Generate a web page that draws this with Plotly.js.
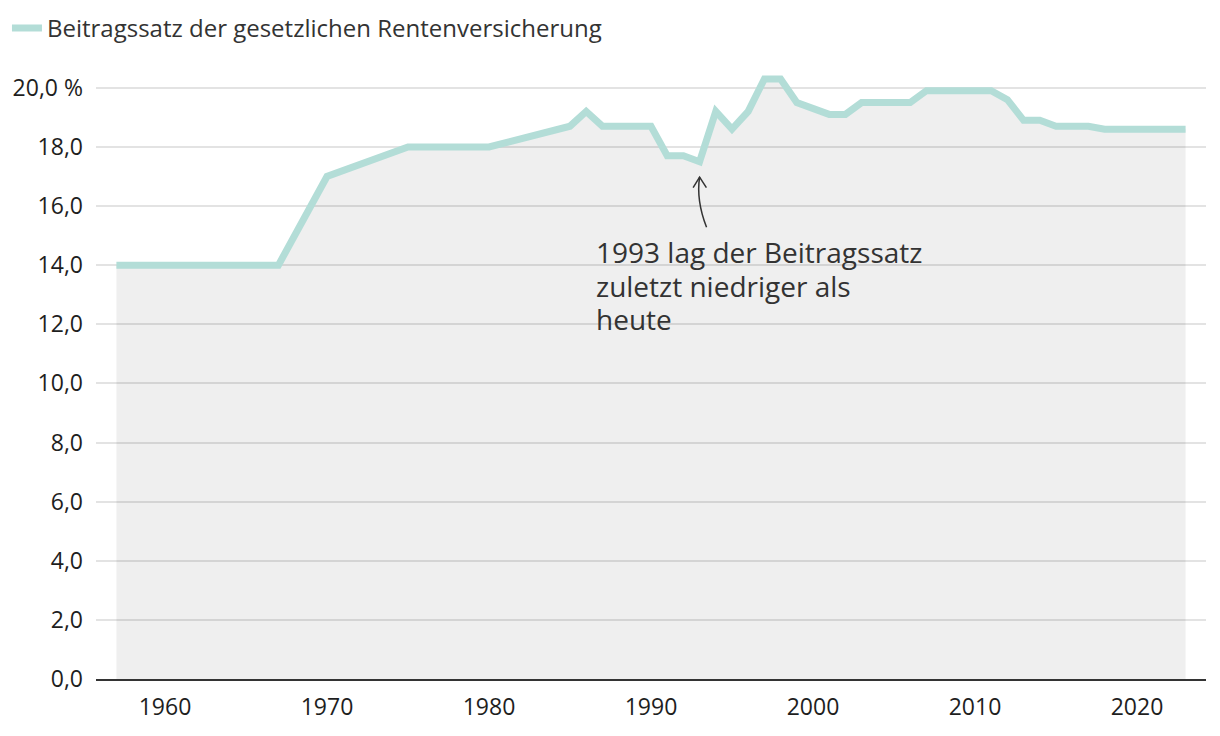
<!DOCTYPE html>
<html>
<head>
<meta charset="utf-8">
<script src="https://cdn.plot.ly/plotly-3.0.1.min.js"></script>
<style>
html,body{margin:0;padding:0;background:#fff;}
#chart{width:1220px;height:736px;}
</style>
</head>
<body>
<div id="chart"></div>
<script>
const years = [1957, 1967, 1970, 1975, 1980, 1985, 1986, 1987, 1988, 1989, 1990,
  1991, 1992, 1993, 1994, 1995, 1996, 1997, 1998, 1999, 2000, 2001, 2002, 2003,
  2004, 2005, 2006, 2007, 2008, 2009, 2010, 2011, 2012, 2013, 2014, 2015, 2016,
  2017, 2018, 2019, 2020, 2021, 2022, 2023];
const rate = [14.0, 14.0, 17.0, 18.0, 18.0, 18.7, 19.2, 18.7, 18.7, 18.7, 18.7,
  17.7, 17.7, 17.5, 19.2, 18.6, 19.2, 20.3, 20.3, 19.5, 19.3, 19.1, 19.1, 19.5,
  19.5, 19.5, 19.5, 19.9, 19.9, 19.9, 19.9, 19.9, 19.6, 18.9, 18.9, 18.7, 18.7,
  18.7, 18.6, 18.6, 18.6, 18.6, 18.6, 18.6];
const seriesName = "Beitragssatz der gesetzlichen Rentenversicherung";
const yTickVals = [0, 2, 4, 6, 8, 10, 12, 14, 16, 18, 20];
const yTickText = ["0,0", "2,0", "4,0", "6,0", "8,0", "10,0", "12,0", "14,0", "16,0", "18,0", "20,0 %"];
const xTickVals = [1960, 1970, 1980, 1990, 2000, 2010, 2020];
const noteLines = ["1993 lag der Beitragssatz", "zuletzt niedriger als", "heute"];

const font = "'Open Sans', 'Noto Sans', sans-serif";
const teal = "#b3ddd7";

const traces = [
  {
    x: years, y: rate, type: "scatter", mode: "lines",
    fill: "tozeroy", fillcolor: "rgba(0,0,0,0.063)",
    line: {width: 0, color: "rgba(0,0,0,0)"},
    showlegend: false, hoverinfo: "skip"
  },
  {
    x: years, y: rate, type: "scatter", mode: "lines",
    name: seriesName,
    line: {color: teal, width: 7, shape: "linear"},
    showlegend: true
  }
];

const noteText = noteLines.map(t => '<span style="font-size:28px">' + t + '</span>').join("<br>");

const layout = {
  width: 1220, height: 736,
  margin: {l: 96, r: 14, t: 73, b: 57},
  paper_bgcolor: "#fff", plot_bgcolor: "#fff",
  font: {family: font, color: "#222", size: 23},
  showlegend: true,
  legend: {
    orientation: "h", xref: "container", yref: "container",
    x: 0.0057, y: 0.992, xanchor: "left", yanchor: "top",
    font: {family: font, size: 24, color: "#333"},
    itemwidth: 30, bgcolor: "rgba(0,0,0,0)"
  },
  xaxis: {
    range: [1955.74, 2024.26],
    tickvals: xTickVals, ticktext: xTickVals.map(String),
    showgrid: false, zeroline: false,
    showline: true, linecolor: "#333", linewidth: 2,
    ticks: "", ticklabelstandoff: 6,
    tickfont: {family: font, size: 23, color: "#1e1e1e"}
  },
  yaxis: {
    range: [0, 20.5],
    tickvals: yTickVals, ticktext: yTickText,
    showgrid: true, gridcolor: "#e3e3e3", gridwidth: 2,
    zeroline: false, showline: false,
    ticks: "", ticklabelstandoff: 12,
    tickfont: {family: font, size: 23, color: "#1e1e1e"}
  },
  annotations: [
    {
      x: 1986.48, y: 13.32, xref: "x", yref: "y",
      xanchor: "left", yanchor: "middle", align: "left",
      text: noteText, showarrow: false,
      font: {family: font, size: 25.8, color: "#333"}
    }
  ],
  shapes: [
    {
      type: "path", xref: "x", yref: "y",
      path: "M 1993.43 15.28 Q 1992.78 16.2 1993.0 16.98",
      line: {color: "#333", width: 1.5}
    },
    {
      type: "path", xref: "x", yref: "y",
      path: "M 1992.6 16.62 L 1993.0 16.98 L 1993.42 16.62",
      line: {color: "#333", width: 1.5}
    }
  ]
};

Plotly.newPlot("chart", traces, layout, {displayModeBar: false, staticPlot: true});
</script>
</body>
</html>
